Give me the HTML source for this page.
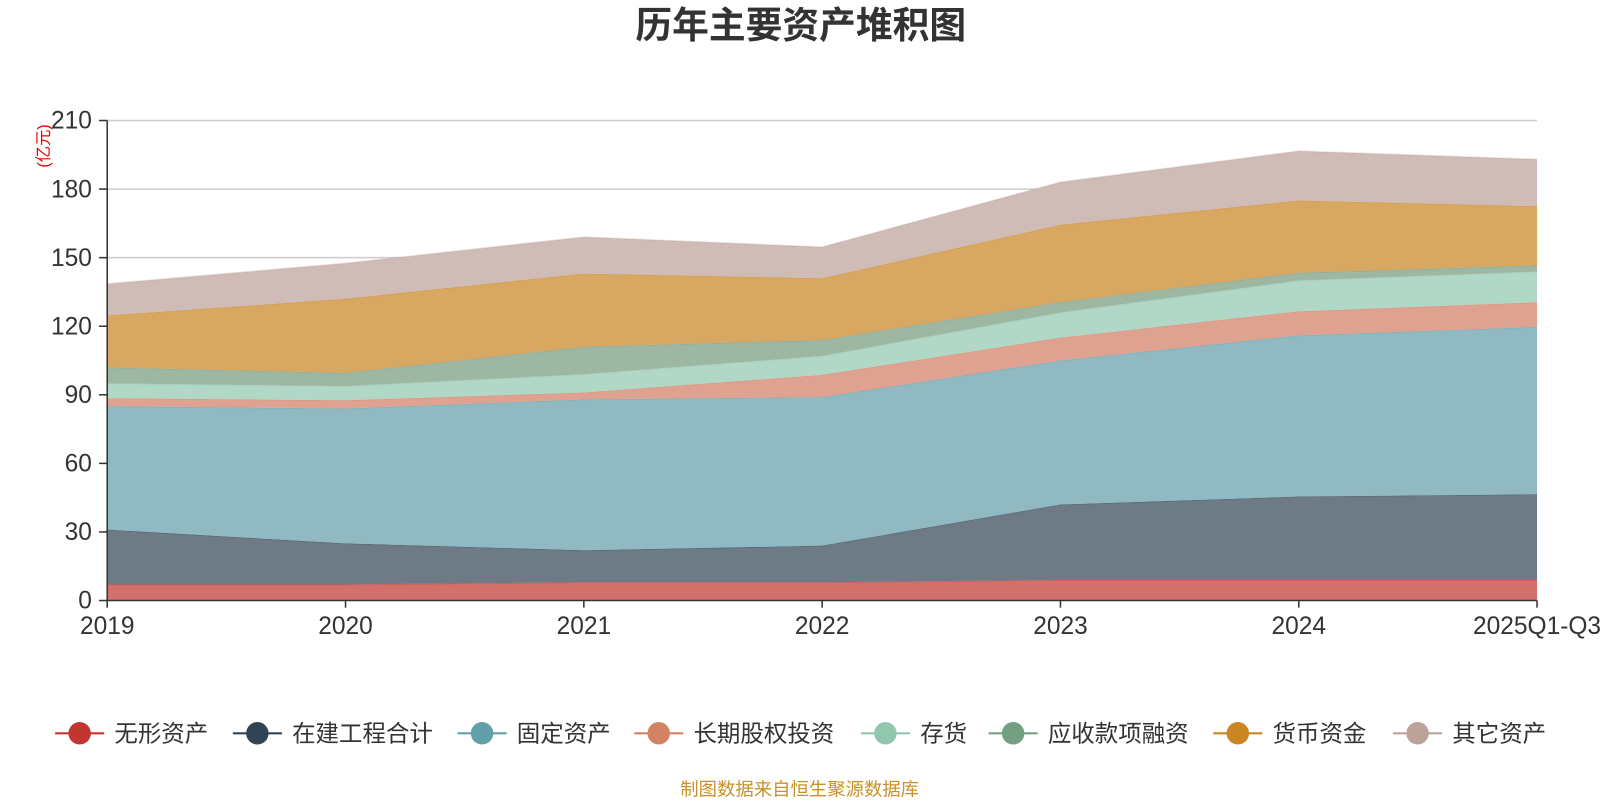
<!DOCTYPE html>
<html><head><meta charset="utf-8"><style>
body{margin:0;background:#fff;}
svg text{font-family:"Liberation Sans","Noto Sans CJK SC",sans-serif;}
</style></head><body>
<svg id="c" width="1600" height="800" xmlns="http://www.w3.org/2000/svg">
<g transform="scale(1.0213)">
<text x="784" y="37" text-anchor="middle" font-size="36" font-weight="bold" fill="#333">历年主要资产堆积图</text>
<text transform="translate(48,143) rotate(-90)" text-anchor="middle" font-size="16" fill="#e00">(亿元)</text>
<g id="grid"></g><g id="areas"></g><g id="axes"></g><g id="legend"></g>
<text x="783" y="779" text-anchor="middle" font-size="18" fill="#c8922a">制图数据来自恒生聚源数据库</text>
</g>
</svg>
<script>
const categories=["2019","2020","2021","2022","2023","2024","2025Q1-Q3"];
const seriesNames=["无形资产","在建工程合计","固定资产","长期股权投资","存货","应收款项融资","货币资金","其它资产"];
const s0=[7,7,8,8,9,9,9];
const s1=[24,18,14,16,33,36.5,37.5];
const s2=[54,59,66,65,63,70.5,73.2];
const s3=[3.5,3.6,3,9.7,10,10.5,10.8];
const s4=[6.5,6.2,8,8.3,11,13.5,13.4];
const s5=[7,5.8,12,7,4.5,3.4,2.7];
const s6=[22.7,32.4,32,27,33.9,31.6,25.9];
const s7=[13.8,15.5,16,13.6,18.6,21.6,20.5];
const yTicks=[0,30,60,90,120,150,180,210];
const series=[s0,s1,s2,s3,s4,s5,s6,s7];
const fills=["#d4706c","#6e7b87","#91b9c1","#e0a290","#b1d8c6","#9db7a2","#d8a862","#cfbcb6"];
const strokes=["#c23531","#2f4554","#61a0a8","#d48265","#91c7ae","#749f83","#ca8622","#bda29a"];
const NS="http://www.w3.org/2000/svg";
const X=i=>105+i*(1400/(categories.length-1));
const Y=v=>588-v*(470/210);
function el(t,a,p){const e=document.createElementNS(NS,t);for(const k in a)e.setAttribute(k,a[k]);p.appendChild(e);return e;}
const grid=document.getElementById('grid'),areas=document.getElementById('areas'),axes=document.getElementById('axes'),leg=document.getElementById('legend');
yTicks.forEach(v=>{
 if(v>0){const l=el('line',{x1:105,x2:1505,y1:Y(v),y2:Y(v),stroke:'#ccc','stroke-width':1.5},grid);
 
 }
 const tk=el('line',{x1:97,x2:105,y1:Y(v),y2:Y(v),stroke:'#333','stroke-width':1.5},axes);
 
 
 const t=el('text',{x:90,y:Y(v)+8,'text-anchor':'end','font-size':24,fill:'#333'},axes);t.textContent=v;
 
 
});
let base=categories.map(()=>0);
series.forEach((s,k)=>{
 const top=base.map((b,i)=>b+s[i]);
 let d='M'+categories.map((c,i)=>X(i)+','+Y(top[i])).join('L');
 for(let i=categories.length-1;i>=0;i--)d+='L'+X(i)+','+Y(base[i]);
 const a=el('path',{d:d+'Z',fill:fills[k]},areas);
 
 
 const ln=el('polyline',{points:categories.map((c,i)=>X(i)+','+Y(top[i])).join(' '),fill:'none',stroke:strokes[k],'stroke-opacity':0.35,'stroke-width':1.5},areas);
 
 
 base=top;
});
const ya=el('line',{x1:105,x2:105,y1:118,y2:588,stroke:'#333','stroke-width':1.5},axes);


const xa=el('line',{x1:105,x2:1505,y1:588,y2:588,stroke:'#333','stroke-width':1.5},axes);


categories.forEach((c,i)=>{
 const tk=el('line',{x1:X(i),x2:X(i),y1:588,y2:595,stroke:'#333','stroke-width':1.5},axes);
 
 
 const t=el('text',{x:X(i),y:621,'text-anchor':'middle','font-size':24,fill:'#333'},axes);t.textContent=c;
 
 
});
const lx=[78,252,472,645,867,992,1212,1388];
seriesNames.forEach((n,k)=>{
 const g=el('g',{},leg);
 
 
 el('line',{x1:lx[k]-24,x2:lx[k]+24,y1:718,y2:718,stroke:strokes[k],'stroke-width':2},g);
 el('circle',{cx:lx[k],cy:718,r:11,fill:strokes[k]},g);
 const t=el('text',{x:lx[k]+34,y:726,'font-size':23,fill:'#333'},g);t.textContent=n;
});
</script>
</body></html>
